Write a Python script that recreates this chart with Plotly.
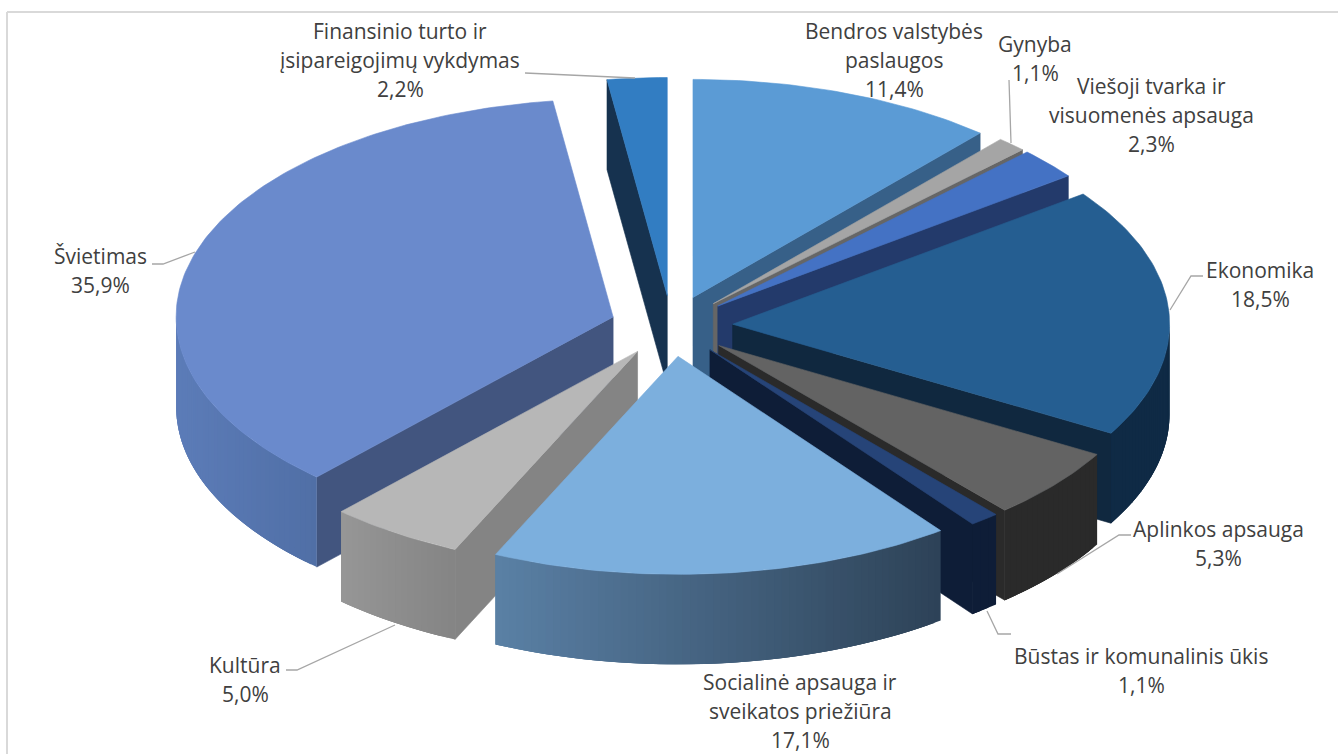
import math
import plotly.graph_objects as go

# ---- data ----
categories = ["Bendros valstybės paslaugos", "Gynyba", "Viešoji tvarka ir visuomenės apsauga",
              "Ekonomika", "Aplinkos apsauga", "Būstas ir komunalinis ūkis",
              "Socialinė apsauga ir sveikatos priežiūra", "Kultūra", "Švietimas",
              "Finansinio turto ir įsipareigojimų vykdymas"]
shares = [11.4, 1.1, 2.3, 18.5, 5.3, 1.1, 17.1, 5.0, 35.9, 2.2]

# ---- styles ----
top_colors = ["#5B9BD5", "#A5A5A5", "#4472C4", "#255E91", "#636363", "#264478", "#7CAFDD", "#B7B7B7", "#6A8ACC", "#327DC2"]
side_colors = ["#376088", "#666666", "#233A6B", "#10283F", "#2A2A2A", "#0E1D37", "#2D4257", "#848484", "#42557F", "#16324F"]
wall_left = ["#376088", "#666666", "#233A6B", "#0F2A45", "#2A2A2A", "#0E1D37", "#5A80A5", "#969696", "#5C7CB8", "#16324F"]
wall_right = ["#376088", "#666666", "#233A6B", "#0F2A45", "#2A2A2A", "#0E1D37", "#2D4257", "#848484", "#506FA6", "#16324F"]
label_lines = [["Bendros valstybės", "paslaugos"], ["Gynyba"], ["Viešoji tvarka ir", "visuomenės apsauga"],
               ["Ekonomika"], ["Aplinkos apsauga"], ["Būstas ir komunalinis ūkis"],
               ["Socialinė apsauga ir", "sveikatos priežiūra"], ["Kultūra"], ["Švietimas"],
               ["Finansinio turto ir", "įsipareigojimų vykdymas"]]
label_x = [894, 1035, 1151, 1260, 1218, 1141, 800, 245, 100, 400]
label_y = [31, 44, 86, 270, 529, 656, 682, 665, 256, 31]
leaders = [None, [(1009, 80), (1011, 143)], None, [(1203, 276), (1191, 276), (1170, 310)],
           [(1131, 535), (1119, 535), (1057, 574)], [(1011, 634), (998, 634), (987, 611)], None,
           [(286, 670), (297, 670), (395, 625)], [(152, 264), (163, 264), (195, 252)],
           [(525, 73), (635, 78)]]
BASE_X, BASE_Y, RX, RY, DEPTH, EXPLODE = 671.5, 326, 437, 218, 90, 0.14
LINE_H = 29
FONT = "Open Sans"
FONT_SIZE = 21
TEXT = "#404040"


def rim(cx, cy, deg):
    r = math.radians(deg)
    return cx + RX * math.sin(r), cy - RY * math.cos(r)


def mix(a, b, t):
    ca = [int(a[i:i + 2], 16) for i in (1, 3, 5)]
    cb = [int(b[i:i + 2], 16) for i in (1, 3, 5)]
    return "#%02X%02X%02X" % tuple(round(x + (y - x) * t) for x, y in zip(ca, cb))


fig = go.Figure()


def poly(xs, ys, color, width=0.6):
    fig.add_trace(go.Scatter(x=xs + xs[:1], y=ys + ys[:1], mode="lines", fill="toself", fillcolor=color,
                             line=dict(color=color, width=width), hoverinfo="skip", showlegend=False))


slices = []
start = 0.0
total = sum(shares)
for i, v in enumerate(shares):
    end = start + 360 * v / total
    slices.append((i, start, end))
    start = end

order = sorted(slices, key=lambda s: -math.cos(math.radians((s[1] + s[2]) / 2)))
for i, a, b in order:
    mid = math.radians((a + b) / 2)
    cx = BASE_X + EXPLODE * RX * math.sin(mid)
    cy = BASE_Y - EXPLODE * RY * math.cos(mid)
    # radial walls
    if math.sin(math.radians(a)) < 0:
        x, y = rim(cx, cy, a)
        poly([cx, x, x, cx], [cy, y, y + DEPTH, cy + DEPTH], side_colors[i])
    if math.sin(math.radians(b)) > 0:
        x, y = rim(cx, cy, b)
        poly([cx, x, x, cx], [cy, y, y + DEPTH, cy + DEPTH], side_colors[i])
    # outer wall: overlapping bands painted one over the other, which gives a smooth shade
    lo, hi = max(a, 90), min(b, 270)
    if hi > lo:
        n = max(1, int(hi - lo))
        x_hi = rim(cx, cy, lo)[0]
        x_lo = rim(cx, cy, hi)[0]
        step = (hi - lo) / n
        for k in range(n):
            t0 = lo + step * k
            t1 = min(hi, t0 + step * 3)
            m = 6
            arc = [rim(cx, cy, t0 + (t1 - t0) * j / m) for j in range(m + 1)]
            t = (rim(cx, cy, t0 + step / 2)[0] - x_lo) / max(x_hi - x_lo, 1)
            xs = [p[0] for p in arc]
            ys = [p[1] for p in arc]
            poly(xs + xs[::-1], ys + [y + DEPTH for y in ys[::-1]], mix(wall_left[i], wall_right[i], t), width=0)
    # top face
    n = max(2, int(b - a))
    pts = [rim(cx, cy, a + (b - a) * k / n) for k in range(n + 1)]
    poly([cx] + [p[0] for p in pts], [cy] + [p[1] for p in pts], top_colors[i])

# leader lines
for lead in leaders:
    if lead:
        fig.add_trace(go.Scatter(x=[p[0] for p in lead], y=[p[1] for p in lead], mode="lines",
                                 line=dict(color="#A6A6A6", width=1.3), hoverinfo="skip", showlegend=False))

# labels
for i, lines in enumerate(label_lines):
    pct = f"{shares[i]:.1f}%".replace(".", ",")
    for k, line in enumerate(lines + [pct]):
        fig.add_annotation(x=label_x[i], y=label_y[i] + k * LINE_H, text=line, showarrow=False,
                           xanchor="center", yanchor="middle", font=dict(family=FONT, size=FONT_SIZE, color=TEXT))

# chart frame
fig.add_shape(type="line", x0=7, x1=7, y0=12, y1=754, line=dict(color="#D9D9D9", width=2))
fig.add_shape(type="line", x0=7, x1=1338, y0=12, y1=12, line=dict(color="#D9D9D9", width=2))

fig.update_layout(width=1338, height=754, margin=dict(l=0, r=0, t=0, b=0), paper_bgcolor="white", plot_bgcolor="white",
                  xaxis=dict(range=[0, 1338], visible=False, fixedrange=True),
                  yaxis=dict(range=[754, 0], visible=False, fixedrange=True), showlegend=False)
fig.write_html("out.html", config={"displayModeBar": False},
               post_script="document.body.style.margin='0';document.body.style.overflow='hidden';")
